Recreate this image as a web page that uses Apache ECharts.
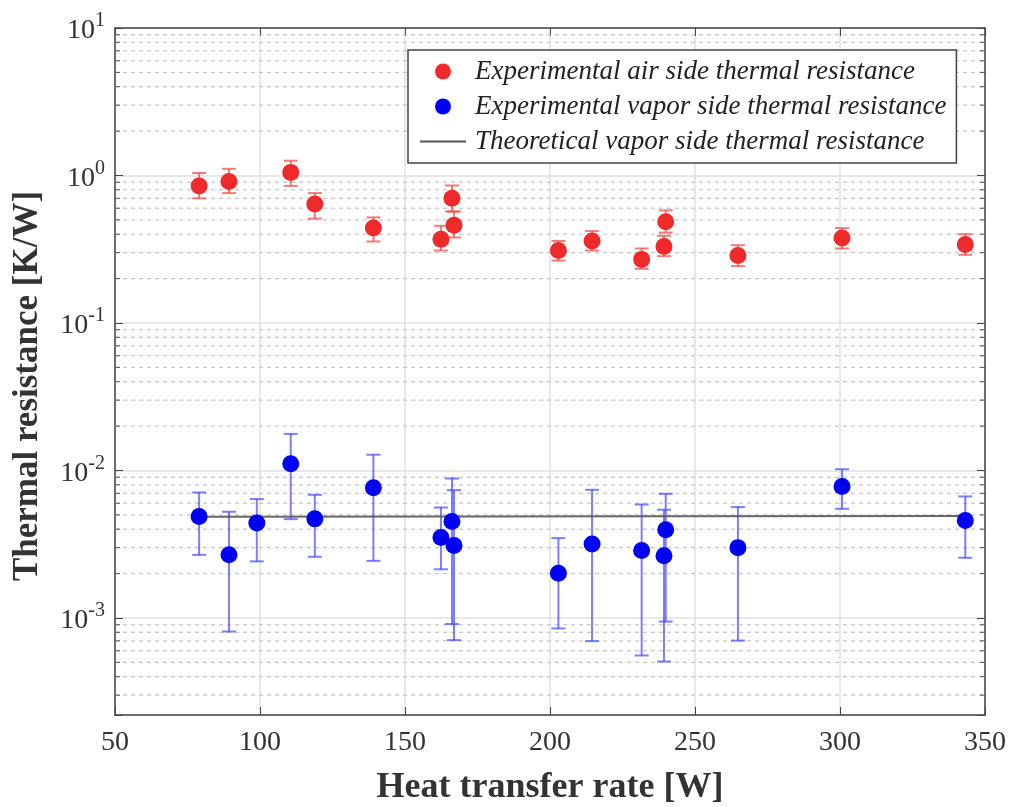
<!DOCTYPE html>
<html>
<head>
<meta charset="utf-8">
<script src="https://cdn.jsdelivr.net/npm/echarts@6/dist/echarts.min.js"></script>
<style>html,body{margin:0;padding:0;background:#fff;}#c{width:1015px;height:807px;}</style>
</head>
<body>
<div id="c"></div>
<script>
// ---- data ----
const xAir   = [79, 89.3, 110.6, 118.9, 139.1, 162.4, 166.2, 166.9, 202.9, 214.5, 231.6, 239.3, 239.9, 264.8, 300.7, 343.2];
const airR   = [0.85, 0.91, 1.05, 0.64, 0.44, 0.37, 0.70, 0.46, 0.31, 0.36, 0.27, 0.33, 0.485, 0.287, 0.377, 0.34];
const airHi  = [1.04, 1.11, 1.26, 0.76, 0.52, 0.456, 0.855, 0.57, 0.36, 0.42, 0.32, 0.39, 0.58, 0.337, 0.44, 0.40];
const airLo  = [0.70, 0.76, 0.85, 0.51, 0.357, 0.31, 0.57, 0.38, 0.265, 0.31, 0.233, 0.284, 0.41, 0.243, 0.32, 0.29];

const xVap   = [79, 89.3, 98.9, 110.6, 118.9, 139.1, 162.4, 166.2, 166.9, 202.9, 214.5, 231.6, 239.3, 239.9, 264.8, 300.7, 343.2];
const vapR   = [4.88e-3, 2.68e-3, 4.4e-3, 1.11e-2, 4.7e-3, 7.63e-3, 3.51e-3, 4.51e-3, 3.1e-3, 2.01e-3, 3.17e-3, 2.87e-3, 2.64e-3, 3.96e-3, 3.0e-3, 7.8e-3, 4.58e-3];
const vapHi  = [7.1e-3, 5.25e-3, 6.4e-3, 1.77e-2, 6.84e-3, 1.28e-2, 5.61e-3, 8.83e-3, 7.36e-3, 3.48e-3, 7.4e-3, 5.88e-3, 5.42e-3, 6.95e-3, 5.65e-3, 1.02e-2, 6.67e-3];
const vapLo  = [2.68e-3, 8.1e-4, 2.42e-3, 4.68e-3, 2.6e-3, 2.44e-3, 2.14e-3, 9.1e-4, 7.08e-4, 8.5e-4, 6.97e-4, 5.57e-4, 5.07e-4, 9.46e-4, 7.03e-4, 5.5e-3, 2.56e-3];

const xTheo  = [79, 166, 240, 343.2];
const theoR  = [4.86e-3, 4.88e-3, 4.9e-3, 4.92e-3];

const xTicks = [50, 100, 150, 200, 250, 300, 350];
const yMin = 2.2e-4, yMax = 10;
const decades = [1e-4, 1e-3, 1e-2, 1e-1, 1];
const minorMult = [2, 3, 4, 5, 6, 7, 8, 9];

const names = ['Experimental air side thermal resistance', 'Experimental vapor side thermal resistance', 'Theoretical vapor side thermal resistance'];

// ---- build ----
const minorVals = [];
decades.forEach(d => minorMult.forEach(m => { const v = m * d; if (v > yMin && v < yMax) minorVals.push(v); }));

const FONT = 'Liberation Serif';
const chart = echarts.init(document.getElementById('c'), null, {renderer: 'canvas'});

function errRender(color) {
  return function (params, api) {
    const x = api.value(0), lo = api.value(1), hi = api.value(2);
    const a = api.coord([x, hi]), b = api.coord([x, lo]);
    const w = 7;
    const st = {stroke: color, lineWidth: 2};
    return {type: 'group', children: [
      {type: 'line', shape: {x1: a[0], y1: a[1], x2: b[0], y2: b[1]}, style: st},
      {type: 'line', shape: {x1: a[0] - w, y1: a[1], x2: a[0] + w, y2: a[1]}, style: st},
      {type: 'line', shape: {x1: b[0] - w, y1: b[1], x2: b[0] + w, y2: b[1]}, style: st}
    ]};
  };
}

const option = {
  backgroundColor: '#fff',
  animation: false,
  grid: {left: 115, right: 30, top: 28, bottom: 92},
  legend: {
    orient: 'vertical', left: 408, top: 50,
    padding: [8, 10, 8, 12], itemGap: 8, itemWidth: 46, itemHeight: 16,
    borderColor: '#444', borderWidth: 1.5, backgroundColor: '#fff',
    textStyle: {fontFamily: FONT, fontStyle: 'italic', fontSize: 27, color: '#222', padding: [0, 0, 0, 4]},
    data: [
      {name: names[0], icon: 'circle'},
      {name: names[1], icon: 'circle'},
      {name: names[2], icon: 'path://M0,0L46,0L46,2L0,2Z'}
    ]
  },
  xAxis: [{
    type: 'value', min: 50, max: 350, interval: 50,
    axisLine: {lineStyle: {color: '#444', width: 1.5}},
    axisTick: {inside: true, length: 8, lineStyle: {color: '#444'}},
    axisLabel: {fontFamily: FONT, fontSize: 28, color: '#333', margin: 14},
    splitLine: {show: true, lineStyle: {color: '#e0e0e0', width: 1.5}}
  }, {
    type: 'value', position: 'top', min: 50, max: 350, interval: 50,
    axisLine: {show: true, lineStyle: {color: '#444', width: 1.5}},
    axisTick: {show: true, inside: true, length: 8, lineStyle: {color: '#444'}},
    axisLabel: {show: false}, splitLine: {show: false}
  }],
  yAxis: [{
    type: 'log', min: yMin, max: yMax, logBase: 10,
    axisLine: {show: true, lineStyle: {color: '#444', width: 1.5}},
    axisTick: {show: true, inside: true, length: 8, lineStyle: {color: '#444'}},
    axisLabel: {
      margin: 10,
      formatter: function (v) {
        const l = Math.log10(v), e = Math.round(l);
        if (Math.abs(l - e) > 1e-6) return '';
        return '{b|10}{e|' + e + '}';
      },
      rich: {
        b: {fontFamily: FONT, fontSize: 28, color: '#333', lineHeight: 34, verticalAlign: 'bottom'},
        e: {fontFamily: FONT, fontSize: 20, color: '#333', lineHeight: 34, verticalAlign: 'top'}
      }
    },
    splitLine: {show: true, lineStyle: {color: '#e0e0e0', width: 1.5}}
  }, {
    type: 'log', min: yMin, max: yMax, logBase: 10, position: 'right',
    axisLine: {show: true, lineStyle: {color: '#444', width: 1.5}},
    axisTick: {show: true, inside: true, length: 8, lineStyle: {color: '#444'}},
    axisLabel: {show: false}, splitLine: {show: false}
  }],
  series: [
    {
      type: 'custom', name: 'minorGrid', silent: true, z: 1,
      data: minorVals.map(v => [50, v]),
      encode: {x: 0, y: 1},
      renderItem: function (params, api) {
        const p = api.coord([50, api.value(1)]);
        const cs = params.coordSys;
        return {type: 'group', children: [
          {type: 'line', shape: {x1: cs.x, y1: p[1], x2: cs.x + cs.width, y2: p[1]}, style: {stroke: '#c4c4c4', lineWidth: 1.2, lineDash: [4, 4]}},
          {type: 'line', shape: {x1: cs.x, y1: p[1], x2: cs.x + 5, y2: p[1]}, style: {stroke: '#555', lineWidth: 1}},
          {type: 'line', shape: {x1: cs.x + cs.width - 5, y1: p[1], x2: cs.x + cs.width, y2: p[1]}, style: {stroke: '#555', lineWidth: 1}}
        ]};
      }
    },
    {
      type: 'custom', name: 'airErr', silent: true, z: 2,
      data: xAir.map((x, i) => [x, airLo[i], airHi[i]]),
      encode: {x: 0, y: [1, 2]},
      renderItem: errRender('rgba(238,70,70,0.7)')
    },
    {
      type: 'custom', name: 'vapErr', silent: true, z: 2,
      data: xVap.map((x, i) => [x, vapLo[i], vapHi[i]]),
      encode: {x: 0, y: [1, 2]},
      renderItem: errRender('rgba(70,70,255,0.7)')
    },
    {
      type: 'line', name: names[2], z: 3,
      data: xTheo.map((x, i) => [x, theoR[i]]),
      symbol: 'none', lineStyle: {color: '#555', width: 2, opacity: 0.9}, itemStyle: {color: '#555'}
    },
    {
      type: 'scatter', name: names[0], z: 4,
      data: xAir.map((x, i) => [x, airR[i]]),
      symbol: 'circle', symbolSize: 17, itemStyle: {color: '#ee2a2a', opacity: 1}
    },
    {
      type: 'scatter', name: names[1], z: 4,
      data: xVap.map((x, i) => [x, vapR[i]]),
      symbol: 'circle', symbolSize: 17, itemStyle: {color: '#0000f5', opacity: 1}
    }
  ],
  graphic: [
    {type: 'text', x: 550, y: 788, style: {text: 'Heat transfer rate [W]', fontFamily: FONT, fontWeight: 'bold', fontSize: 36, fill: '#333', textAlign: 'center', textVerticalAlign: 'middle'}},
    {type: 'text', x: 28, y: 386, rotation: Math.PI / 2, style: {text: 'Thermal resistance [K/W]', fontFamily: FONT, fontWeight: 'bold', fontSize: 35, fill: '#333', textAlign: 'center', textVerticalAlign: 'middle'}}
  ]
};
chart.setOption(option);
</script>
</body>
</html>
